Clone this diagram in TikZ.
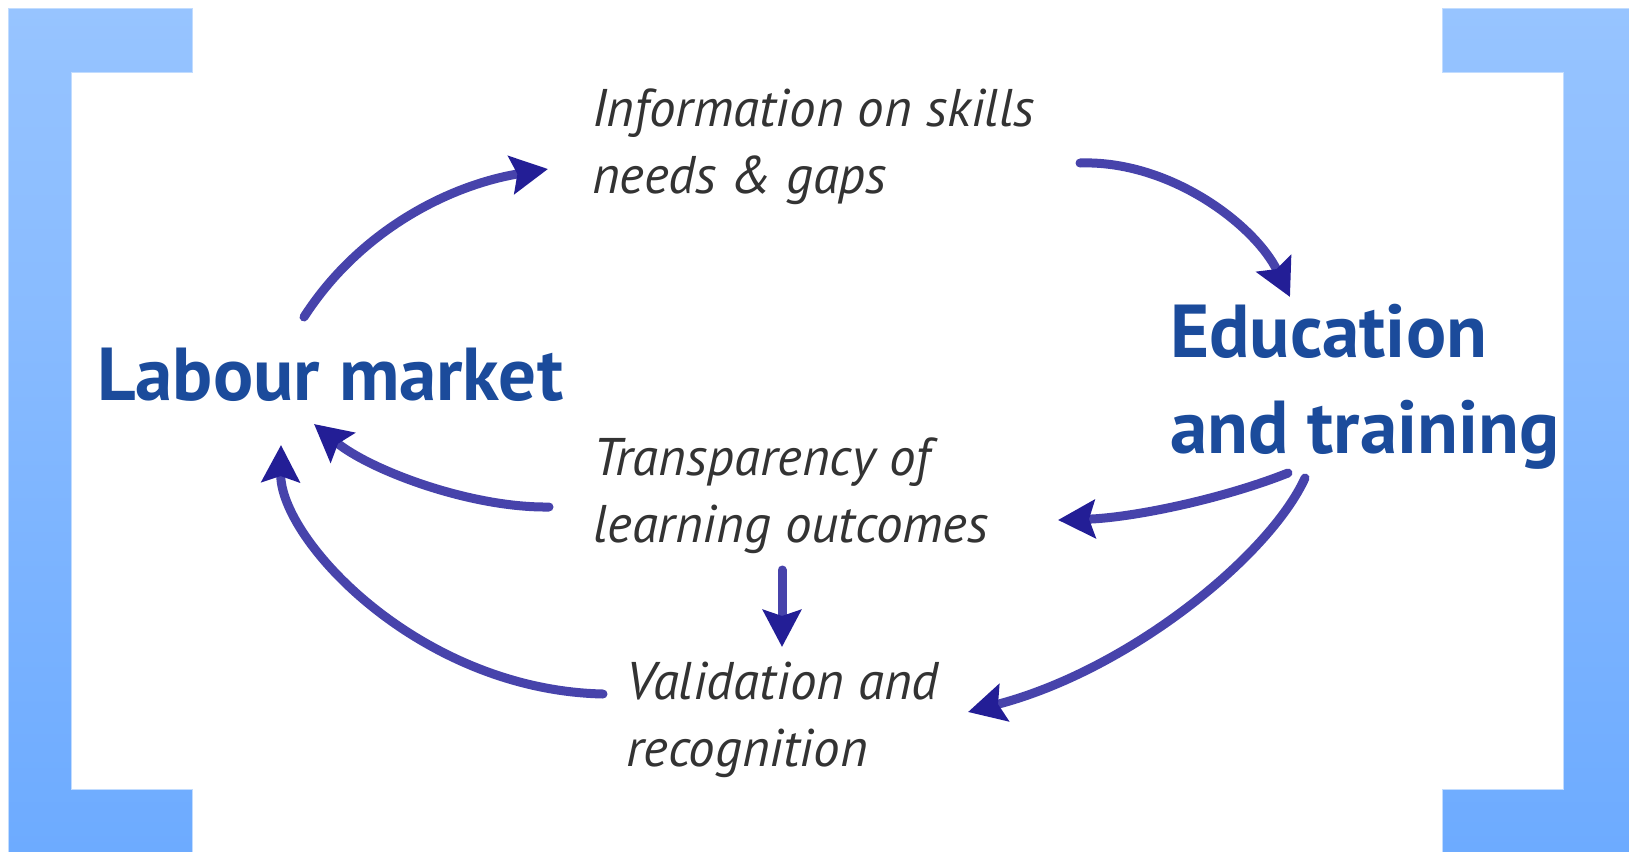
\documentclass[tikz,border=0pt]{standalone}
\usepackage{fontspec}
\setmainfont{PT Sans}
\usetikzlibrary{arrows.meta}

\definecolor{barlight}{HTML}{97C4FF}
\definecolor{bardark}{HTML}{6DABFF}
\definecolor{titleblue}{HTML}{1B4B9B}
\definecolor{greytext}{HTML}{333333}
\definecolor{arrowblue}{HTML}{4743AB}
\definecolor{tipblue}{HTML}{231E96}

\tikzset{
  title/.style={anchor=base west, inner sep=0pt, align=left, text=titleblue,
    font=\fontsize{75}{96}\selectfont\bfseries},
  label/.style={anchor=base west, inner sep=0pt, align=left, text=greytext,
    font=\fontsize{53}{67}\selectfont\itshape},
  flow/.style={draw=arrowblue, line width=9pt, line cap=round,
    -{Stealth[length=37pt, width=38pt, inset=6pt, color=tipblue]}},
  bar/.style={top color=barlight, bottom color=bardark, draw=barlight!60!white, line width=1pt}
}

\begin{document}
\begin{tikzpicture}[x=1pt, y=-1pt]
  \useasboundingbox (0,0) rectangle (1629,851);
  % Side brackets
  \shade[bar] (8,9) -- (192,9) -- (192,72) -- (71,72) -- (71,789) -- (192,789)
    -- (192,852) -- (8,852) -- cycle;
  \shade[bar] (1442,9) -- (1630,9) -- (1630,852) -- (1442,852) -- (1442,789)
    -- (1563,789) -- (1563,72) -- (1442,72) -- cycle;
  % Main labels (base = last line)
  \node[title] (lab) at (97,400) {Labour market};
  \node[title] (edu) at (1170,453) {Education\\and training};
  % Flow labels
  \node[label] (info) at (592,193) {Information on skills\\needs \& gaps};
  \node[label] (trans) at (593,542) {Transparency of\\learning outcomes};
  \node[label] (valid) at (626,766) {Validation and\\recognition};
  % Arrow ends
  \coordinate (lab-out) at (304,317);
  \coordinate (info-in) at (548,169);
  \coordinate (info-out) at (1080,163);
  \coordinate (edu-in) at (1290,297);
  \coordinate (edu-out1) at (1288,473);
  \coordinate (trans-in) at (1058,520);
  \coordinate (edu-out2) at (1305,478);
  \coordinate (valid-in) at (968,712);
  \coordinate (trans-out) at (549,507);
  \coordinate (lab-in1) at (314,424);
  \coordinate (valid-out) at (603,694);
  \coordinate (lab-in2) at (281,445);
  \coordinate (trans-down) at (782,570);
  \coordinate (valid-up) at (782,647);
  % Arrows
  \draw[flow] (lab-out) .. controls (360,230) and (450,185) .. (info-in);
  \draw[flow] (info-out) .. controls (1170,160) and (1255,225) .. (edu-in);
  \draw[flow] (edu-out1) .. controls (1220,500) and (1130,518) .. (trans-in);
  \draw[flow] (edu-out2) .. controls (1270,555) and (1130,670) .. (valid-in);
  \draw[flow] (trans-out) .. controls (470,508) and (370,470) .. (lab-in1);
  \draw[flow] (valid-out) .. controls (420,690) and (280,540) .. (lab-in2);
  \draw[flow] (trans-down) -- (valid-up);
\end{tikzpicture}
\end{document}
